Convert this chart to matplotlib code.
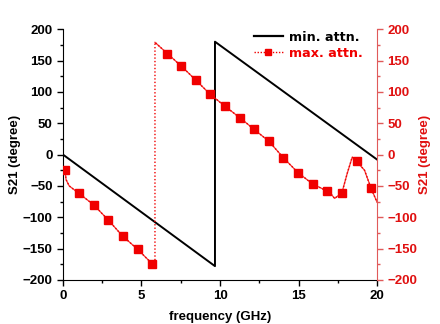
import matplotlib.pyplot as plt
from matplotlib.lines import Line2D
from matplotlib.ticker import MultipleLocator

# min. attenuation (left axis)
min_freq  = [0.0, 9.68, 9.68, 20.0]
min_phase = [0.0, -178.0, 180.0, -8.0]

# max. attenuation (right axis)
max_freq = [0.13, 0.2, 0.4, 1.02, 1.95, 2.87, 3.8, 4.75, 5.67, 5.86, 5.86,
             6.65, 7.54, 8.45, 9.38, 10.32, 11.25, 12.18, 13.12, 14.03,
             14.97, 15.9, 16.8, 17.1, 17.3, 17.5, 17.75, 18.1, 18.42, 18.7,
             19.2, 19.62, 20.0]
max_phase = [-24, -40, -50, -62, -80, -104, -130, -151, -174, -176, 179,
             161, 141, 119, 96, 77, 59, 40, 21, -5,
             -29, -47, -58, -64, -70, -66, -62, -30, -4, -11,
             -25, -54, -76]
max_marks = [0, 3, 4, 5, 6, 7, 8, 11, 12, 13, 14, 15, 16, 17, 18, 19,
             20, 21, 22, 26, 29, 31]
jump = 10  # index where the phase wraps

RED = "#f00000"
TICKFONT = {"family": "Liberation Sans", "weight": "bold", "size": 9.5}

fig = plt.figure(figsize=(4.4, 3.24), dpi=100)
ax = fig.add_axes([0.143, 0.136, 0.714, 0.774])
ax2 = ax.twinx()

ax.plot(min_freq, min_phase, color="black", lw=1.4)

# dotted trace, dense enough to look nearly solid where data is continuous
ax2.plot(max_freq, max_phase, color=RED, lw=1.0, ls=(0, (1, 1.5)))
ax2.plot(max_freq[:jump], max_phase[:jump], color=RED, lw=0.9, alpha=0.8)
ax2.plot(max_freq[jump:], max_phase[jump:], color=RED, lw=0.9, alpha=0.8)
ax2.plot([max_freq[i] for i in max_marks], [max_phase[i] for i in max_marks],
         ls="none", marker="s", ms=6.3, color=RED)

for a in (ax, ax2):
    a.set_xlim(0, 20)
    a.set_ylim(-200, 200)
    a.yaxis.set_major_locator(MultipleLocator(50))
    a.yaxis.set_minor_locator(MultipleLocator(25))
    a.spines["top"].set_visible(False)
    a.tick_params(which="major", length=4, width=1)
    a.tick_params(which="minor", length=2.5, width=1)

ax.xaxis.set_major_locator(MultipleLocator(5))
ax.xaxis.set_minor_locator(MultipleLocator(2.5))

ax.spines["right"].set_visible(False)
ax2.spines["left"].set_visible(False)
ax2.spines["bottom"].set_visible(False)
ax2.spines["right"].set_color("#e05a5a")
ax2.tick_params(axis="y", which="both", colors="#e05a5a", labelcolor="#e01010")

for lab in ax.get_xticklabels() + ax.get_yticklabels() + ax2.get_yticklabels():
    lab.set_fontproperties(TICKFONT)

ax.set_xlabel("frequency (GHz)", fontdict=TICKFONT, labelpad=6)
ax.set_ylabel("S21 (degree)", fontdict=TICKFONT, labelpad=1)
ax2.set_ylabel("S21 (degree)", fontdict=TICKFONT, color="#e01010", labelpad=1)

h1 = Line2D([], [], color="black", lw=1.6)
h2 = Line2D([], [], color=RED, lw=1.0, ls=(0, (1, 1.2)), marker="s", ms=5)
ax2.legend(handles=[h1, h2], labels=["min. attn.", "max. attn."],
           loc="upper right", frameon=False, bbox_to_anchor=(0.98, 1.025),
           handlelength=2.3, handletextpad=0.5,
           prop={"family": "DejaVu Sans", "weight": "bold", "size": 9.2},
           labelcolor=["black", RED], borderaxespad=0.2, labelspacing=0.25)

fig.savefig("out.png", dpi=100)
